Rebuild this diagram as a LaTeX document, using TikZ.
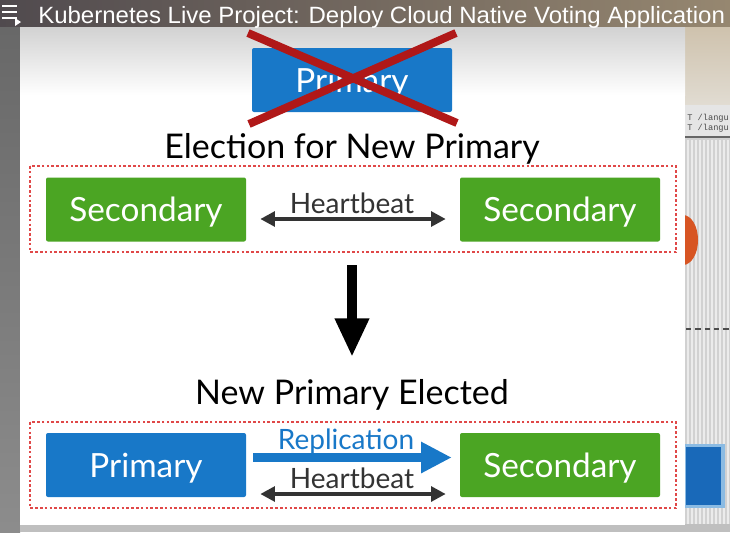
\documentclass[tikz,border=0pt]{standalone}
\usepackage{fontspec}
\usepackage{graphicx}
\setmainfont{Lato}
\newfontfamily\titlefont{Liberation Sans}
\newfontfamily\scrfont{Liberation Mono}
\usetikzlibrary{arrows.meta,calc}
\definecolor{mblue}{HTML}{1878C8}
\definecolor{mgreen}{HTML}{4BA523}
\definecolor{xred}{HTML}{B01818}
\definecolor{dred}{HTML}{E04848}
\definecolor{adark}{HTML}{333333}
\definecolor{beigeA}{RGB}{200,185,160}
\definecolor{beigeB}{RGB}{225,220,210}
\definecolor{orng}{RGB}{215,85,35}
\definecolor{dblue}{RGB}{25,105,185}
\definecolor{barL}{RGB}{80,74,78}
\definecolor{barR}{RGB}{150,135,112}
\begin{document}
\begin{tikzpicture}[x=0.75pt,y=-0.75pt,
  tbox/.style={minimum width=150pt,minimum height=48pt,rounded corners=1.5pt,text=white,inner sep=0pt,text depth=0pt,font=\fontsize{25}{25}\selectfont},
  htext/.style={anchor=base,font=\fontsize{25.5}{26}\selectfont,text=black},
  ltext/.style={anchor=base,font=\fontsize{21}{22}\selectfont,text=adark},
  hbarrow/.style={draw=adark,line width=3pt,{Triangle[length=11pt,width=11pt]}-{Triangle[length=11pt,width=11pt]}},
  reparrow/.style={draw=mblue,line width=6.8pt,-{Triangle[length=23pt,width=22pt]}},
  downarrow/.style={draw=black,line width=7.5pt,-{Triangle[length=29pt,width=24pt]}},
  xline/.style={draw=xred,line width=6pt},
  group/.style={draw=dred,line width=1pt,dash pattern=on 2pt off 1.6pt}]
\useasboundingbox (0,0) rectangle (730,532);
\clip (0,0) rectangle (730,532);
% backgrounds
\fill[black!48] (0,0) rectangle (730,532);
\shade[top color=black!60,bottom color=black!45] (0,0) rectangle (20,532);
\fill[black!18] (685,28) rectangle (730,532);
\shade[top color=beigeA,bottom color=beigeB] (685,0) rectangle (730,105);
\foreach \i in {0,...,10} {\draw[black!8,line width=1.5pt] (688+\i*4,140) -- (688+\i*4,532);}
\fill[black!10] (685,105) rectangle (730,138);
\node[anchor=base west,inner sep=0pt,font=\scrfont\fontsize{6.5}{7}\selectfont,text=black!70] (l1) at (687,120) {T /langu};
\node[anchor=base west,inner sep=0pt,font=\scrfont\fontsize{6.5}{7}\selectfont,text=black!70] (l2) at (687,130) {T /langu};
\draw[black!60,line width=1.2pt] (685,137) -- (730,137);
\fill[orng] (683,240) ellipse (15 and 25);
\draw[black!70,line width=1pt,dash pattern=on 4pt off 3pt] (686,329) -- (730,329);
\fill[mblue!50] (683,444) rectangle (725,508);
\fill[dblue] (686,447) rectangle (721,505);
\fill[black!25] (20,524) rectangle (730,532);
% slide
\fill[white] (20,26) rectangle (685,525);
\shade[top color=black!18,bottom color=white] (20,26) rectangle (685,95);
% title bar
\shade[left color=barL,right color=barR] (0,0) rectangle (730,26);
\foreach \yy in {6,12,18} {\draw[white,line width=2pt] (2,\yy) -- (17,\yy);}
\fill[white] (15,18) -- (21,22) -- (15,26) -- cycle;
\node[anchor=base west,inner sep=0pt,text=white] (title) at (38,23) {\resizebox{515pt}{12.8pt}{\titlefont Kubernetes Live Project: Deploy Cloud Native Voting Application}};
% crossed primary
\node[tbox,fill=mblue] (oldP) at (352,80) {Primary};
\coordinate (xa) at (248,33);
\coordinate (xb) at (457,123);
\coordinate (xc) at (456,33);
\coordinate (xd) at (249,124);
\draw[xline] (xa) -- (xb);
\draw[xline] (xc) -- (xd);
% election
\node[htext] (elec) at (352,158) {Election for New Primary};
\draw[group] (30,166) rectangle (676,252);
\node[tbox,fill=mgreen] (s1) at (146,209.5) {Secondary};
\node[tbox,fill=mgreen] (s2) at (560,209.5) {Secondary};
\coordinate (h1a) at ($(s1.east)+(14,9.5)$);
\coordinate (h1b) at ($(s2.west)+(-14,9.5)$);
\draw[hbarrow] (h1a) -- (h1b);
\node[ltext] (hb1) at (352,213) {Heartbeat};
% down arrow
\coordinate (da) at (352,265);
\coordinate (db) at (352,357);
\draw[downarrow] (da) -- (db);
% new primary
\node[htext] (npe) at (352,404) {New Primary Elected};
\draw[group] (30,422) rectangle (676,508);
\node[tbox,fill=mblue] (p) at (146,465) {Primary};
\node[tbox,fill=mgreen] (s3) at (560,465) {Secondary};
\coordinate (ra) at ($(p.east)+(7,-7.5)$);
\coordinate (rb) at ($(s3.west)+(-8,-7.5)$);
\draw[reparrow] (ra) -- (rb);
\node[ltext,text=mblue] (rep) at (346,449) {Replication};
\coordinate (h2a) at ($(p.east)+(14,29)$);
\coordinate (h2b) at ($(s3.west)+(-14,29)$);
\draw[hbarrow] (h2a) -- (h2b);
\node[ltext] (hb2) at (352,488) {Heartbeat};
\end{tikzpicture}
\end{document}
